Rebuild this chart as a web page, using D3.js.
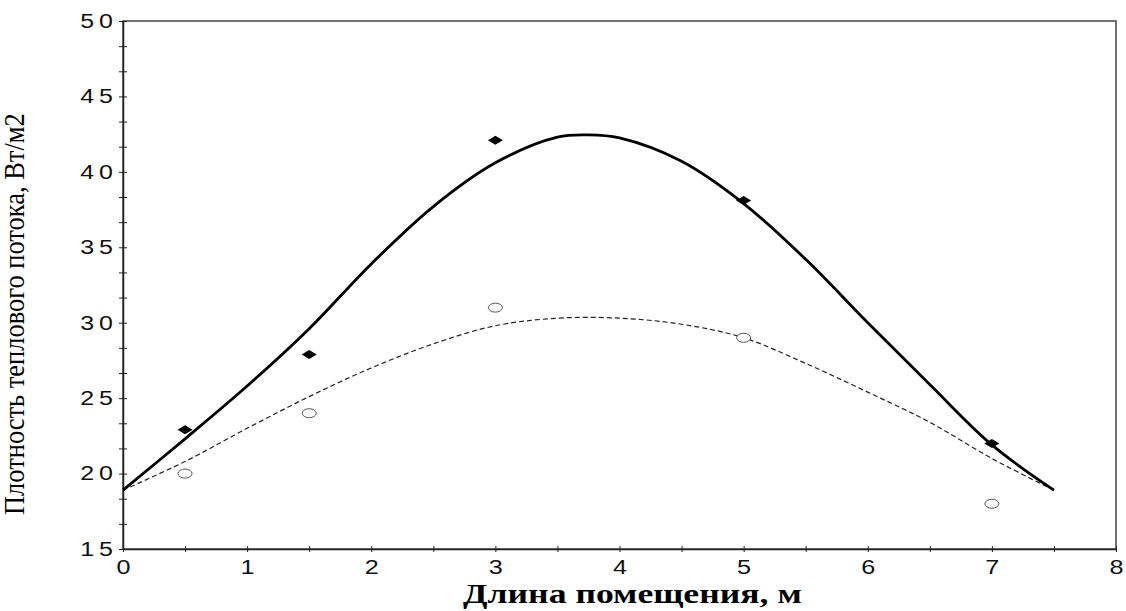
<!DOCTYPE html>
<html>
<head>
<meta charset="utf-8">
<script src="https://cdn.jsdelivr.net/npm/d3@7"></script>
<style>
  body { margin: 0; background: #fff; }
  svg { display: block; }
</style>
</head>
<body>
<div id="chart"></div>
<script>
// measured points
let ptX = [0.5, 1.5, 3, 5, 7]
let diamondY = [22.9, 27.9, 42.1, 38.1, 22.0]
let circleY = [20.0, 24.0, 31.0, 29.0, 18.0]

// fitted curves
let solidX = [0, 0.5, 1, 1.5, 2, 2.5, 3, 3.5, 3.75, 4, 4.5, 5, 5.5, 6, 6.5, 7, 7.5]
let solidY = [18.9, 22.3, 25.8, 29.6, 33.9, 37.7, 40.6, 42.3, 42.45, 42.25, 40.7, 37.9, 34.2, 30.0, 25.9, 21.9, 18.9]
let dashX = [0, 0.5, 1, 1.5, 2, 2.5, 3, 3.5, 4, 4.5, 5, 5.5, 6, 6.5, 7, 7.5]
let dashY = [18.9, 20.8, 23.0, 25.1, 27.0, 28.6, 29.8, 30.3, 30.3, 29.9, 29.0, 27.3, 25.4, 23.4, 21.0, 18.9]

let xTicks = d3.range(0, 8.01, 0.5)
let yTicks = d3.range(0, 22).map(i => 15 + i * 5 / 3)

let xTitle = 'Длина помещения, м'
let yTitle = 'Плотность теплового потока, Вт/м2'

let width = 1126, height = 611
let margin = {top: 21, right: 10, bottom: 62, left: 123}
let innerWidth = width - margin.left - margin.right
let innerHeight = height - margin.top - margin.bottom

let svg = d3.select('#chart').append('svg')
  .attr('width', width)
  .attr('height', height)

let g = svg.append('g').attr('transform', `translate(${margin.left},${margin.top})`)

let x = d3.scaleLinear().domain([0, 8]).range([0, innerWidth])
let y = d3.scaleLinear().domain([15, 50]).range([innerHeight, 0])

let isMajor = d => Math.abs(d - Math.round(d / 5) * 5) < 1e-6

// frame
g.append('rect')
  .attr('width', innerWidth).attr('height', innerHeight)
  .attr('fill', 'none').attr('stroke', '#444').attr('stroke-width', 1.5)

// y axis
let yAxis = g.append('g')
  .call(d3.axisLeft(y).tickValues(yTicks).tickSize(0).tickPadding(10)
    .tickFormat(d => isMajor(d) ? Math.round(d) : ''))
yAxis.select('.domain').attr('stroke', '#222').attr('stroke-width', 1.5)
yAxis.selectAll('.tick line').attr('x1', -4).attr('x2', 4).attr('stroke', '#222')
yAxis.selectAll('.tick text').filter(d => !isMajor(d)).remove()
yAxis.selectAll('.tick text')
  .attr('font-family', '"Liberation Sans", Arial, sans-serif')
  .attr('font-size', 20).attr('fill', '#111')
  .attr('letter-spacing', 4)
  .attr('transform', 'scale(1.25,1)')
  .attr('x', -4)

// x axis
let xAxis = g.append('g').attr('transform', `translate(0,${innerHeight})`)
  .call(d3.axisBottom(x).tickValues(xTicks).tickSize(0).tickPadding(10)
    .tickFormat(d => d % 1 === 0 ? d : ''))
xAxis.select('.domain').attr('stroke', '#222').attr('stroke-width', 1.5)
xAxis.selectAll('.tick line').attr('y1', -3).attr('y2', 3).attr('stroke', '#222')
xAxis.selectAll('.tick text').filter(d => d % 1 !== 0).remove()
xAxis.selectAll('.tick text')
  .attr('font-family', '"Liberation Sans", Arial, sans-serif')
  .attr('font-size', 21).attr('fill', '#111')
  .attr('transform', 'scale(1.2,1)')

// curves
let line = d3.line().curve(d3.curveCatmullRom.alpha(0.5))
  .x(d => x(d[0])).y(d => y(d[1]))

g.append('path')
  .datum(dashX.map((v, i) => [v, dashY[i]]))
  .attr('d', line)
  .attr('fill', 'none').attr('stroke', '#222')
  .attr('stroke-width', 1.2).attr('stroke-dasharray', '5,3')

g.append('path')
  .datum(solidX.map((v, i) => [v, solidY[i]]))
  .attr('d', line)
  .attr('fill', 'none').attr('stroke', '#000')
  .attr('stroke-width', 2.8)

// markers
g.selectAll('.dia').data(ptX.map((v, i) => [v, diamondY[i]]))
  .join('path').attr('class', 'dia')
  .attr('d', 'M-7.5,0L0,-4.5L7.5,0L0,4.5Z')
  .attr('transform', d => `translate(${x(d[0])},${y(d[1])})`)
  .attr('fill', '#000')

g.selectAll('.circ').data(ptX.map((v, i) => [v, circleY[i]]))
  .join('ellipse').attr('class', 'circ')
  .attr('cx', d => x(d[0])).attr('cy', d => y(d[1]))
  .attr('rx', 7).attr('ry', 4.5)
  .attr('fill', '#fff').attr('stroke', '#555').attr('stroke-width', 1)

// titles: stretch/squeeze horizontally to the reference width
let xt = svg.append('text')
  .attr('font-family', '"Liberation Serif", "Times New Roman", serif')
  .attr('font-weight', 'bold').attr('font-size', 27)
  .text(xTitle)
let sx = 339 / xt.node().getComputedTextLength()
xt.attr('transform', `translate(463,603) scale(${sx},1)`)

let yt = svg.append('text')
  .attr('font-family', '"Liberation Serif", "Times New Roman", serif')
  .attr('font-size', 29)
  .text(yTitle)
let sy = 402 / yt.node().getComputedTextLength()
yt.attr('transform', `translate(24,515) rotate(-90) scale(${sy},1)`)
</script>
</body>
</html>
